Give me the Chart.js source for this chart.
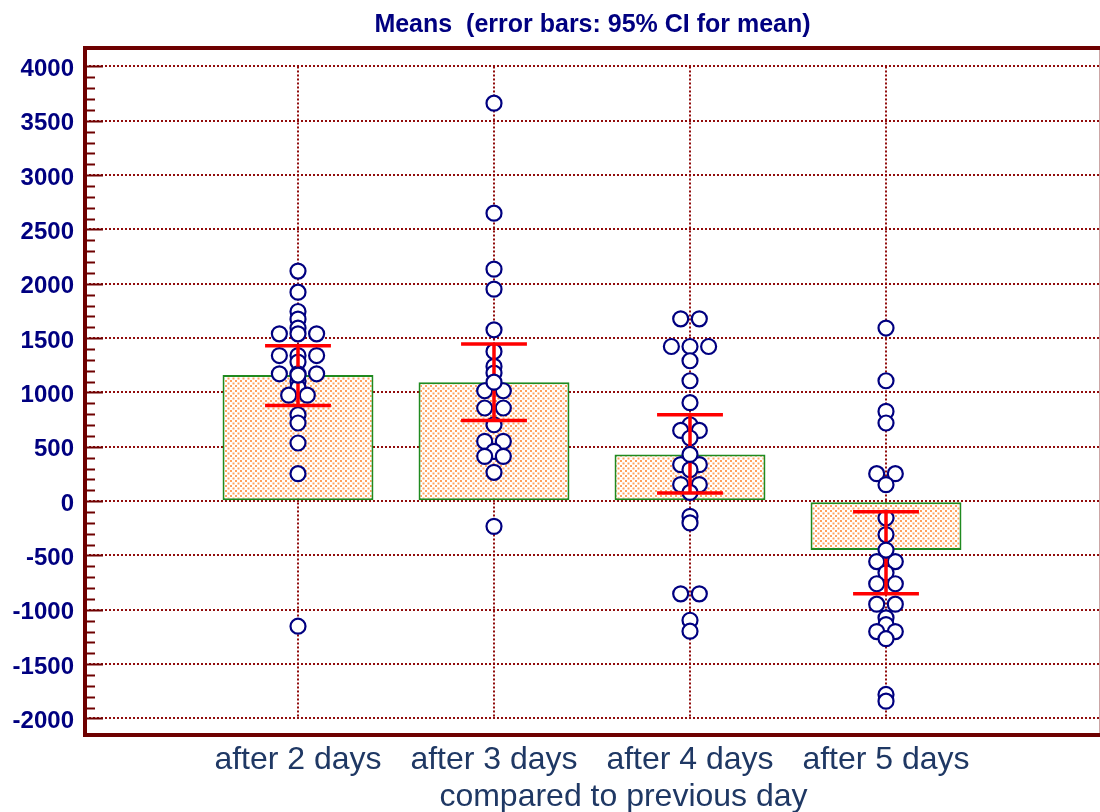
<!DOCTYPE html>
<html>
<head>
<meta charset="utf-8">
<script src="https://cdn.jsdelivr.net/npm/chart.js@4.4.1/dist/chart.umd.min.js"></script>
<style>
  html, body { margin: 0; padding: 0; background: #ffffff; overflow: hidden; }
  canvas { display: block; }
</style>
</head>
<body>
<canvas id="chart" width="1100" height="812"></canvas>
<script>
// Day-to-day differences, one list per group
const categories = ['after 2 days', 'after 3 days', 'after 4 days', 'after 5 days'];

const after2 = [2117, 1923, 1745, 1675, 1593, 1540, 1540, 1540, 1340, 1340, 1340, 1280,
                1172, 1172, 1172, 1102, 1044, 975, 975, 795, 719, 535, 253, -1151];
const after3 = [3662, 2650, 2135, 1951, 1577, 1378, 1240, 1179, 1016, 1016, 857, 857,
                703, 550, 550, 458, 412, 412, 265, -232];
const after4 = [1678, 1678, 1423, 1423, 1423, 1292, 1108, 906, 703, 651, 651, 581,
                336, 336, 290, 152, 152, 80, -140, -200, -853, -853, -1096, -1197];
const after5 = [1593, 1108, 826, 719, 253, 253, 152, -155, -308, -556, -556, -660,
                -760, -760, -948, -948, -1074, -1136, -1200, -1200, -1266, -1779, -1841];

// Group means and 95% confidence interval for the mean
const means  = [1160, 1095, 430, -450];
const ciLow  = [881, 743, 75, -853];
const ciHigh = [1430, 1447, 795, -97];

// Labelled y ticks
const yTickValues = [-2000, -1500, -1000, -500, 0, 500, 1000, 1500, 2000, 2500, 3000, 3500, 4000];
const yMinorStep = 100;

const chartTitle = 'Means  (error bars: 95% CI for mean)';
const xAxisTitle = 'compared to previous day';

const FONT = "'Liberation Sans', Arial, sans-serif";
const GRID_COLOR = 'rgba(139, 0, 0, 0.95)';
const FRAME_COLOR = '#6e0000';
const JITTER = 0.095;          // horizontal step between equal values (category units)
const CAP_HALF = 0.168;        // half width of the error-bar caps (category units)

// Spread equal values side by side around the group centre
function spreadPoints(values, groupIndex) {
  const counts = {};
  values.forEach(v => { counts[v] = (counts[v] || 0) + 1; });
  const seen = {};
  return values.map(v => {
    const n = counts[v];
    const k = seen[v] || 0;
    seen[v] = k + 1;
    return { x: groupIndex + (k - (n - 1) / 2) * JITTER, y: v };
  });
}

const groups = [after2, after3, after4, after5];
const observations = groups.flatMap((vals, i) => spreadPoints(vals, i));

// Dotted orange fill for the bars
function makeDotPattern() {
  const tile = document.createElement('canvas');
  tile.width = 5; tile.height = 5;
  const t = tile.getContext('2d');
  t.fillStyle = '#ffffff';
  t.fillRect(0, 0, 5, 5);
  t.fillStyle = '#ffa15c';
  t.fillRect(0, 0, 2, 2);
  t.fillRect(2.5, 2.5, 2, 2);
  return t.createPattern(tile, 'repeat');
}

const ctx = document.getElementById('chart').getContext('2d');
const dotPattern = makeDotPattern();

// Vertical dotted grid lines, spanning the labelled value range
const verticalGrid = {
  id: 'verticalGrid',
  beforeDatasetsDraw(chart) {
    const { ctx, scales: { x, y } } = chart;
    const top = y.getPixelForValue(yTickValues[yTickValues.length - 1]);
    const bottom = y.getPixelForValue(yTickValues[0]);
    ctx.save();
    ctx.strokeStyle = GRID_COLOR;
    ctx.lineWidth = 2;
    ctx.setLineDash([2, 2]);
    categories.forEach((_, i) => {
      const px = Math.round(x.getPixelForValue(i));
      ctx.beginPath();
      ctx.moveTo(px, top);
      ctx.lineTo(px, bottom);
      ctx.stroke();
    });
    ctx.restore();
  }
};

// Error bars, drawn right after the individual observations
const errorBars = {
  id: 'errorBars',
  afterDatasetDraw(chart, args) {
    if (args.index !== 1) return;
    const { ctx, scales: { x, y } } = chart;
    ctx.save();
    ctx.strokeStyle = '#ff0000';
    ctx.lineWidth = 3.5;
    ctx.lineCap = 'butt';
    means.forEach((_, i) => {
      const cx = x.getPixelForValue(i);
      const l = x.getPixelForValue(i - CAP_HALF);
      const r = x.getPixelForValue(i + CAP_HALF);
      const yl = y.getPixelForValue(ciLow[i]);
      const yh = y.getPixelForValue(ciHigh[i]);
      ctx.beginPath();
      ctx.moveTo(cx, yl); ctx.lineTo(cx, yh);
      ctx.moveTo(l, yh); ctx.lineTo(r, yh);
      ctx.moveTo(l, yl); ctx.lineTo(r, yl);
      ctx.stroke();
    });
    ctx.restore();
  }
};

// Frame, inward tick marks and the x axis caption
const frameAndTicks = {
  id: 'frameAndTicks',
  afterDraw(chart) {
    const { ctx, chartArea: a, scales: { y } } = chart;
    ctx.save();
    ctx.strokeStyle = FRAME_COLOR;
    ctx.lineWidth = 2;
    const lo = yTickValues[0], hi = yTickValues[yTickValues.length - 1];
    for (let v = lo; v <= hi; v += yMinorStep) {
      const py = Math.round(y.getPixelForValue(v)) + 0.5;
      const len = (v % 500 === 0) ? 18 : 10;
      ctx.beginPath();
      ctx.moveTo(a.left, py);
      ctx.lineTo(a.left + len, py);
      ctx.stroke();
    }
    ctx.lineWidth = 4;
    ctx.beginPath();
    ctx.moveTo(a.left, a.top);
    ctx.lineTo(a.right + 4, a.top);
    ctx.moveTo(a.left, a.top - 2);
    ctx.lineTo(a.left, a.bottom + 2);
    ctx.moveTo(a.left, a.bottom);
    ctx.lineTo(a.right + 4, a.bottom);
    ctx.stroke();
    ctx.strokeStyle = 'rgba(110, 0, 0, 0.35)';
    ctx.lineWidth = 1;
    ctx.beginPath();
    ctx.moveTo(a.right - 0.5, a.top);
    ctx.lineTo(a.right - 0.5, a.bottom);
    ctx.stroke();

    ctx.fillStyle = '#1f3864';
    ctx.font = "32px " + FONT;
    ctx.textAlign = 'center';
    ctx.textBaseline = 'alphabetic';
    ctx.fillText(xAxisTitle, (a.left + a.right) / 2 + 31, 806);
    ctx.restore();
  }
};

const markerStyle = {
  pointStyle: 'circle',
  pointRadius: 7.5,
  pointBorderWidth: 2.2,
  pointBorderColor: '#000080',
  pointBackgroundColor: '#ffffff'
};

new Chart(ctx, {
  type: 'bar',
  data: {
    datasets: [
      {
        type: 'bar',
        data: means.map((m, i) => ({ x: i, y: m })),
        backgroundColor: dotPattern,
        borderColor: '#1f8a1f',
        borderWidth: 2,
        borderSkipped: false,
        barPercentage: 0.77,
        categoryPercentage: 1.0,
        order: 3
      },
      Object.assign({ type: 'scatter', data: observations, order: 2 }, markerStyle),
      Object.assign({ type: 'scatter', data: means.map((m, i) => ({ x: i, y: m })), order: 1 }, markerStyle)
    ]
  },
  options: {
    responsive: false,
    animation: false,
    layout: { autoPadding: false, padding: 0 },
    plugins: {
      legend: { display: false },
      tooltip: { enabled: false },
      title: {
        display: true,
        fullSize: false,
        text: chartTitle,
        color: '#000080',
        font: { family: FONT, size: 25, weight: 'bold', lineHeight: 1.2 },
        padding: { top: 10, bottom: 8 }
      }
    },
    scales: {
      x: {
        type: 'linear',
        offset: false,
        min: -1.0867,
        max: 4.0918,
        afterBuildTicks(scale) { scale.ticks = categories.map((_, i) => ({ value: i })); },
        afterFit(scale) { scale.height = 77; },
        ticks: {
          autoSkip: false,
          maxRotation: 0,
          padding: 6,
          color: '#1f3864',
          font: { family: FONT, size: 32 },
          callback: v => categories[v]
        },
        grid: { display: false, drawTicks: false, offset: false },
        border: { display: false }
      },
      y: {
        type: 'linear',
        min: -2152,
        max: 4170,
        afterBuildTicks(scale) { scale.ticks = yTickValues.map(v => ({ value: v })); },
        afterFit(scale) { scale.width = 85; },
        ticks: {
          autoSkip: false,
          padding: 11,
          labelOffset: 3,
          color: '#000080',
          font: { family: FONT, size: 24, weight: 'bold' },
          callback: v => String(v)
        },
        grid: { color: GRID_COLOR, lineWidth: 2, drawTicks: false },
        border: { display: false, dash: [2, 2] }
      }
    }
  },
  plugins: [verticalGrid, errorBars, frameAndTicks]
});
</script>
</body>
</html>
